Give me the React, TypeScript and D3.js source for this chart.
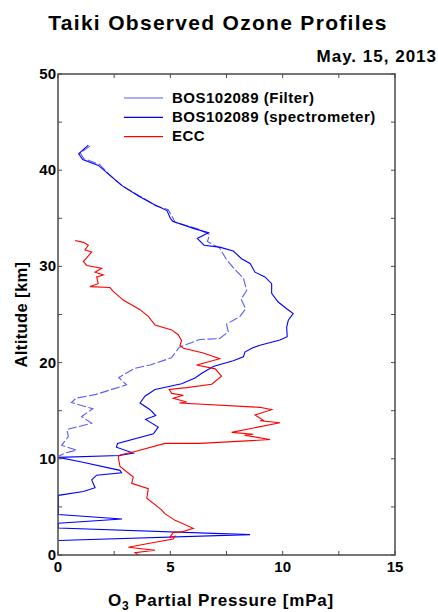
import React from "react";
import * as d3 from "d3";

// ---- Data (O3 partial pressure [mPa], altitude [km]) ----
const filterO3 = [1.42, 0.98, 1.15, 1.85, 2.3, 2.9, 3.65, 4.35, 4.9, 5.1, 5.2, 6.2, 6.75, 6.65, 7.2, 7.5, 7.9, 8.25, 8.4, 8.15, 8.35, 8.1, 7.5, 7.58, 7.2, 6.3, 5.4, 5.05, 4.1, 3.4, 2.7, 3.05, 1.7, 0.8, 0.6, 1.55, 1.05, 1.5, 0.4, 0.46, 0.16, 0.83, 0.31, 0.05];
const filterAlt = [42.5, 41.8, 41.2, 40.6, 39.5, 38.3, 37.3, 36.3, 35.9, 35.1, 34.6, 33.9, 33.3, 32.6, 31.9, 30.7, 29.6, 28.8, 27.5, 26.6, 25.6, 24.8, 24.0, 23.2, 22.5, 22.4, 21.6, 20.5, 19.75, 19.4, 18.45, 17.7, 16.7, 16.3, 15.85, 15.2, 14.4, 13.7, 13.05, 12.3, 11.4, 10.9, 10.6, 10.3];

const specO3 = [1.35, 0.92, 1.1, 1.8, 2.25, 2.85, 3.6, 4.3, 4.85, 5.0, 5.1, 6.1, 6.7, 6.2, 6.5, 7.2, 7.8, 8.17, 8.55, 8.77, 9.21, 9.51, 9.51, 9.8, 10.18, 10.47, 10.25, 10.18, 10.2, 9.88, 8.99, 8.62, 8.32, 8.25, 7.8, 6.91, 6.4, 6.1, 5.5, 4.32, 3.87, 3.65, 4.1, 4.35, 3.9, 4.46, 4.25, 2.65, 2.6, 3.35, 2.75, 0.02, 1.0, 2.76, 2.83, 1.72, 1.5, 1.65, 1.13, 0.02, 0.02, 2.85, 0.02, 0.02, 8.55, 0.02];
const specAlt = [42.6, 41.7, 41.1, 40.5, 39.6, 38.4, 37.3, 36.4, 35.8, 35.0, 34.7, 33.9, 33.5, 32.9, 32.2, 32.0, 31.6, 30.8, 30.3, 29.4, 28.9, 28.2, 27.2, 26.3, 25.6, 25.1, 24.4, 23.7, 22.7, 22.35, 21.8, 21.5, 21.1, 20.6, 20.2, 19.6, 18.9, 18.4, 17.8, 17.2, 16.5, 15.8, 15.1, 14.5, 14.1, 13.3, 12.6, 11.6, 11.2, 10.6, 10.35, 10.15, 9.7, 8.8, 8.55, 8.3, 7.8, 7.0, 6.6, 6.2, 4.2, 3.75, 3.3, 2.8, 2.12, 1.5];

const eccO3 = [0.76, 1.13, 1.35, 1.2, 1.5, 1.13, 1.28, 1.94, 1.65, 2.02, 1.72, 1.79, 1.42, 2.31, 2.46, 2.9, 3.65, 4.02, 4.32, 5.06, 5.35, 5.5, 5.43, 5.58, 6.47, 7.2, 6.17, 7.0, 7.28, 6.84, 5.73, 4.95, 5.06, 5.58, 5.13, 5.73, 5.4, 8.99, 9.51, 8.77, 9.14, 9.0, 9.88, 7.73, 8.69, 8.3, 9.44, 6.32, 4.76, 3.43, 2.76, 2.68, 2.76, 3.35, 3.28, 4.02, 3.95, 4.61, 4.76, 5.21, 6.02, 5.5, 5.13, 4.98, 5.21, 5.13, 4.02, 3.13, 4.32, 3.43, 3.57];
const eccAlt = [32.7, 32.5, 32.2, 31.7, 31.5, 30.5, 30.1, 29.8, 29.4, 29.1, 28.9, 28.2, 27.9, 27.8, 27.4, 26.5, 25.5, 24.8, 23.9, 23.4, 22.9, 22.3, 21.8, 21.5, 21.0, 20.4, 19.75, 19.35, 18.6, 17.75, 17.4, 17.2, 16.8, 16.6, 16.3, 15.9, 15.8, 15.35, 15.1, 14.55, 14.0, 13.95, 13.75, 12.75, 12.55, 12.45, 12.0, 11.6, 11.6, 10.75, 10.4, 10.2, 9.2, 8.1, 7.45, 6.9, 5.9, 4.7, 4.3, 3.6, 2.77, 2.4, 2.35, 1.84, 1.95, 1.66, 1.2, 0.8, 0.5, 0.24, 0.0];

const seriesNames = ["BOS102089 (Filter)", "BOS102089 (spectrometer)", "ECC"];
const seriesColors = ["#5a5aff", "#0000ff", "#ff0000"];
const xTickValues = [0, 2.5, 5, 7.5, 10, 12.5, 15];
const xTickLabels = [0, 5, 10, 15];
const yTickValues = [0, 5, 10, 15, 20, 25, 30, 35, 40, 45, 50];
const yTickLabels = [0, 10, 20, 30, 40, 50];

const title = "Taiki Observed Ozone Profiles";
const dateLabel = "May. 15, 2013";

export default function App() {
  const W = 438, H = 612;
  const m = { left: 58, right: 395, top: 74, bottom: 555 };
  const x = d3.scaleLinear().domain([0, 15]).range([m.left, m.right]);
  const y = d3.scaleLinear().domain([0, 50]).range([m.bottom, m.top]);
  const line = d3.line<[number, number]>().x(d => x(d[0])).y(d => y(d[1]));
  const zip = (a: number[], b: number[]) => a.map((v, i) => [v, b[i]] as [number, number]);
  const series = [zip(filterO3, filterAlt), zip(specO3, specAlt), zip(eccO3, eccAlt)];
  const font = "'Liberation Sans', Arial, sans-serif";
  const axisColor = "#4a4a4a";
  const tick = 4;

  return (
    <svg width={W} height={H} style={{ position: "absolute", left: 0, top: 0, background: "#fff" }} fontFamily={font}>
      <defs>
        <clipPath id="plotclip">
          <rect x={m.left} y={m.top} width={m.right - m.left} height={m.bottom - m.top} />
        </clipPath>
      </defs>
      <text x={218} y={30} textAnchor="middle" fontSize={21} fontWeight="bold" letterSpacing={1.3}>{title}</text>
      <text x={437} y={62} textAnchor="end" fontSize={17} fontWeight="bold" letterSpacing={1}>{dateLabel}</text>

      {/* data lines */}
      <g clipPath="url(#plotclip)" fill="none">
        <path d={line(series[0]) || ""} stroke={seriesColors[0]} strokeWidth={1.1} strokeDasharray="9,2.5" />
        <path d={line(series[1]) || ""} stroke={seriesColors[1]} strokeWidth={1.1} />
        <path d={line(series[2]) || ""} stroke={seriesColors[2]} strokeWidth={1.1} />
      </g>

      {/* frame */}
      <rect x={m.left} y={m.top} width={m.right - m.left} height={m.bottom - m.top} fill="none" stroke={axisColor} strokeWidth={1.5} />

      {/* x ticks */}
      {xTickValues.map(v => (
        <g key={"xt" + v} stroke={axisColor} strokeWidth={1}>
          <line x1={x(v)} x2={x(v)} y1={m.bottom} y2={m.bottom - tick} />
          <line x1={x(v)} x2={x(v)} y1={m.top} y2={m.top + tick} />
        </g>
      ))}
      {xTickLabels.map(v => (
        <text key={"xl" + v} x={x(v)} y={572} textAnchor="middle" fontSize={15} fontWeight="bold">{v}</text>
      ))}

      {/* y ticks */}
      {yTickValues.map(v => (
        <g key={"yt" + v} stroke={axisColor} strokeWidth={1}>
          <line x1={m.left} x2={m.left + tick} y1={y(v)} y2={y(v)} />
          <line x1={m.right} x2={m.right - tick} y1={y(v)} y2={y(v)} />
        </g>
      ))}
      {yTickLabels.map(v => (
        <text key={"yl" + v} x={56} y={y(v) + 5} textAnchor="end" fontSize={15} fontWeight="bold">{v}</text>
      ))}

      {/* axis titles */}
      <text transform={`translate(27,${(m.top + m.bottom) / 2}) rotate(-90)`} textAnchor="middle" fontSize={16.5} fontWeight="bold" letterSpacing={0.4}>Altitude [km]</text>
      <text x={221} y={606} textAnchor="middle" fontSize={17} fontWeight="bold" letterSpacing={0.8}>
        <tspan>O</tspan>
        <tspan dy={4} fontSize={12}>3</tspan>
        <tspan dy={-4}> Partial Pressure [mPa]</tspan>
      </text>

      {/* legend */}
      {seriesNames.map((n, i) => (
        <g key={n}>
          <line x1={124} x2={163} y1={98 + i * 19.3} y2={98 + i * 19.3} stroke={seriesColors[i]} strokeWidth={1.2} />
          <text x={172} y={102.5 + i * 19.3} fontSize={15} fontWeight="bold" letterSpacing={0.5}>{n}</text>
        </g>
      ))}
    </svg>
  );
}
